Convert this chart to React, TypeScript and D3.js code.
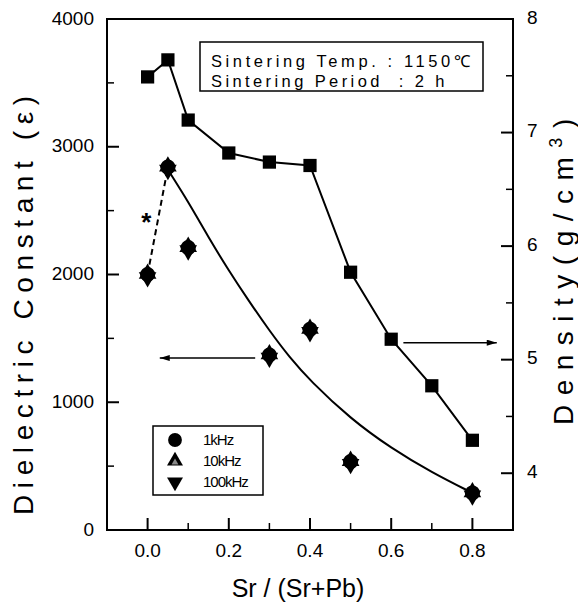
import React from 'react';
import * as d3 from 'd3';

const densityX = [0, 0.05, 0.1, 0.2, 0.3, 0.4, 0.5, 0.6, 0.7, 0.8];
const density = [7.49, 7.64, 7.11, 6.82, 6.74, 6.71, 5.77, 5.18, 4.77, 4.29];

const dielX = [0, 0.05, 0.1, 0.3, 0.4, 0.5, 0.8];
const diel1k = [2000, 2840, 2210, 1370, 1570, 535, 290];
const diel10k = [1995, 2835, 2205, 1365, 1565, 530, 285];
const diel100k = [1990, 2830, 2200, 1360, 1560, 528, 282];

// hand drawn trend curve through the dielectric data
const fitX = [0.05, 0.1, 0.15, 0.2, 0.25, 0.3, 0.35, 0.4, 0.5, 0.6, 0.7, 0.8];
const fitY = [2820, 2570, 2290, 2030, 1790, 1560, 1350, 1170, 870, 640, 450, 290];

// dashed link (marked *) between x=0 and x=0.05
const dashX = [0, 0.05];
const dashY = [2000, 2840];

const leftTicks = [0, 1000, 2000, 3000, 4000];
const leftMinor = [500, 1500, 2500, 3500];
const rightTicks = [4, 5, 6, 7, 8];
const rightMinor = [4.5, 5.5, 6.5, 7.5];
const xTicks = [0, 0.2, 0.4, 0.6, 0.8];
const xMinor = [0.1, 0.3, 0.5, 0.7];

const legendLabels = ['1kHz', '10kHz', '100kHz'];

const font = '"Liberation Sans", Arial, sans-serif';

export default function App() {
  const width = 578;
  const height = 602;
  const m = { left: 107, right: 513, top: 19, bottom: 530 };

  const x = d3.scaleLinear().domain([-0.1, 0.9]).range([m.left, m.right]);
  const yL = d3.scaleLinear().domain([0, 4000]).range([m.bottom, m.top]);
  const yR = d3.scaleLinear().domain([3.5, 8]).range([m.bottom, m.top]);

  const lineDensity = d3
    .line<number>()
    .x((d, i) => x(densityX[i]))
    .y((d) => yR(d));

  const lineFit = d3
    .line<number>()
    .x((d, i) => x(fitX[i]))
    .y((d) => yL(d))
    .curve(d3.curveBasis);

  const lineDash = d3
    .line<number>()
    .x((d, i) => x(dashX[i]))
    .y((d) => yL(d));

  const circle = d3.symbol().type(d3.symbolCircle).size(180)();
  const tri = d3.symbol().type(d3.symbolTriangle).size(135)();
  const square = d3.symbol().type(d3.symbolSquare).size(175)();

  const legTri = d3.symbol().type(d3.symbolTriangle).size(110)();
  const legCircle = d3.symbol().type(d3.symbolCircle).size(150)();

  return (
    <svg
      width={width}
      height={height}
      style={{ position: 'absolute', left: 0, top: 0, background: '#fff' }}
      fontFamily={font}
    >
      <defs>
        <marker id="ah" viewBox="0 0 10 6" refX="10" refY="3" markerWidth="13" markerHeight="6" markerUnits="userSpaceOnUse" orient="auto">
          <path d="M0,0 L10,3 L0,6 Z" fill="#000" />
        </marker>
      </defs>

      {/* frame */}
      <rect x={m.left} y={m.top} width={m.right - m.left} height={m.bottom - m.top} fill="none" stroke="#000" strokeWidth={2} />

      {/* left axis */}
      {leftTicks.map((t) => (
        <g key={'l' + t}>
          <line x1={m.left} x2={m.left + 12} y1={yL(t)} y2={yL(t)} stroke="#000" strokeWidth={2} />
          <text x={m.left - 13} y={yL(t) - 1} dy="0.35em" textAnchor="end" fontSize={19}>
            {t}
          </text>
        </g>
      ))}
      {leftMinor.map((t) => (
        <line key={'lm' + t} x1={m.left} x2={m.left + 7} y1={yL(t)} y2={yL(t)} stroke="#000" strokeWidth={1.5} />
      ))}

      {/* right axis */}
      {rightTicks.map((t) => (
        <g key={'r' + t}>
          <line x1={m.right} x2={m.right - 12} y1={yR(t)} y2={yR(t)} stroke="#000" strokeWidth={2} />
          <text x={m.right + 14} y={yR(t) - 2} dy="0.35em" textAnchor="start" fontSize={19}>
            {t}
          </text>
        </g>
      ))}
      {rightMinor.map((t) => (
        <line key={'rm' + t} x1={m.right} x2={m.right - 7} y1={yR(t)} y2={yR(t)} stroke="#000" strokeWidth={1.5} />
      ))}

      {/* bottom axis */}
      {xTicks.map((t) => (
        <g key={'x' + t}>
          <line x1={x(t)} x2={x(t)} y1={m.bottom} y2={m.bottom - 12} stroke="#000" strokeWidth={2} />
          <text x={x(t)} y={m.bottom + 27} textAnchor="middle" fontSize={19}>
            {d3.format('.1f')(t)}
          </text>
        </g>
      ))}
      {xMinor.map((t) => (
        <line key={'xm' + t} x1={x(t)} x2={x(t)} y1={m.bottom} y2={m.bottom - 7} stroke="#000" strokeWidth={1.5} />
      ))}

      {/* axis titles */}
      <text transform="translate(33,515) rotate(-90)" textAnchor="start" fontSize={28} letterSpacing={6.6}>
        Dielectric Constant (ε)
      </text>
      <text transform="translate(573,425) rotate(-90)" textAnchor="start" fontSize={28} letterSpacing={9.5}>
        Density(g/cm<tspan dy={-11} fontSize={18}>3</tspan>
        <tspan dy={11}>)</tspan>
      </text>
      <text x={298} y={597} textAnchor="middle" fontSize={25}>
        Sr / (Sr+Pb)
      </text>

      {/* density line + squares */}
      <path d={lineDensity(density) || ''} fill="none" stroke="#000" strokeWidth={2} />
      {density.map((d, i) => (
        <path key={'s' + i} d={square || ''} transform={`translate(${x(densityX[i])},${yR(d)})`} fill="#000" />
      ))}

      {/* trend curve + dashed link */}
      <path d={lineFit(fitY) || ''} fill="none" stroke="#000" strokeWidth={2} />
      <path d={lineDash(dashY) || ''} fill="none" stroke="#000" strokeWidth={2} strokeDasharray="6,4" />
      <text x={x(-0.003)} y={yL(2465)} dy="0.62em" textAnchor="middle" fontSize={26} fontWeight="bold">
        *
      </text>

      {/* dielectric markers, three frequencies overlapping */}
      {dielX.map((v, i) => (
        <g key={'d' + i}>
          <path d={circle || ''} transform={`translate(${x(v)},${yL(diel1k[i])})`} fill="#000" />
          <path d={tri || ''} transform={`translate(${x(v)},${yL(diel10k[i]) - 1.5})`} fill="#000" />
          <path d={tri || ''} transform={`translate(${x(v)},${yL(diel100k[i]) + 1.5}) rotate(180)`} fill="#000" />
        </g>
      ))}

      {/* arrows pointing to axes */}
      <line x1={x(0.265)} x2={x(0.03)} y1={yL(1346)} y2={yL(1346)} stroke="#000" strokeWidth={1.5} markerEnd="url(#ah)" />
      <line x1={x(0.63)} x2={x(0.86)} y1={yR(5.15)} y2={yR(5.15)} stroke="#000" strokeWidth={1.5} markerEnd="url(#ah)" />

      {/* conditions box */}
      <rect x={200} y={42} width={283} height={49} fill="#fff" stroke="#000" strokeWidth={1.5} />
      <text x={211} y={67} fontSize={16.5} letterSpacing={3.6} style={{ whiteSpace: 'pre' }}>
        Sintering Temp. : 1150℃
      </text>
      <text x={211} y={87} fontSize={16.5} letterSpacing={3.4} style={{ whiteSpace: 'pre' }}>
        Sintering Period  : 2 h
      </text>

      {/* legend */}
      <rect x={153} y={426} width={110} height={69} fill="#fff" stroke="#000" strokeWidth={1.5} />
      {legendLabels.map((lab, i) => {
        const cy = 440 + i * 21;
        return (
          <g key={lab}>
            {i === 0 && <path d={legCircle || ''} transform={`translate(175,${cy})`} fill="#000" />}
            {i === 1 && (
              <g transform={`translate(175,${cy})`}>
                <path d={legTri || ''} fill="#000" />
                <path d={d3.symbol().type(d3.symbolTriangle).size(20)() || ''} transform="translate(0,1.5)" fill="#888" />
              </g>
            )}
            {i === 2 && <path d={legTri || ''} transform={`translate(175,${cy}) rotate(180)`} fill="#000" />}
            <text x={203} y={cy} dy="0.35em" fontSize={15} letterSpacing={-1}>
              {lab}
            </text>
          </g>
        );
      })}
    </svg>
  );
}
